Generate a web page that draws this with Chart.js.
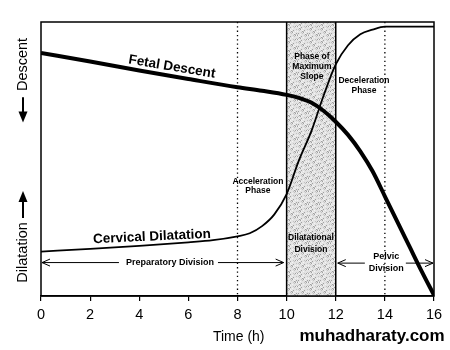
<!DOCTYPE html>
<html>
<head>
<meta charset="utf-8">
<title>Labour curve</title>
<script src="https://cdn.jsdelivr.net/npm/chart.js@4.4.1/dist/chart.umd.min.js"></script>
<style>
body { margin: 0; background: #fff; }
canvas { display: block; }
</style>
</head>
<body>
<canvas id="myChart" width="450" height="350"></canvas>
<script>
// values (y is an arbitrary 0-100 scale, 100 = top of the frame)
let descentHours = [0, 2, 4, 6, 8, 9, 10, 10.5, 11, 11.5, 12, 12.5, 13, 13.5, 14, 14.5, 15, 15.5, 16]
let descentLevel = [88.7, 85.6, 82.3, 79.2, 76.2, 74.9, 73.4, 72.3, 70.6, 67.6, 63.6, 58.8, 52.8, 45.5, 36.4, 27.2, 18.1, 9.0, 0.3]
let dilationHours = [0, 2, 4, 6, 7, 8, 8.5, 9, 9.5, 10, 10.5, 11, 11.5, 12, 12.5, 13, 13.5, 14, 15, 16]
let dilationLevel = [16.2, 17.2, 18.3, 19.6, 20.4, 21.8, 22.9, 25.5, 29.8, 37.2, 49.5, 60, 73, 84.5, 91.5, 95.5, 97.2, 98.3, 98.3, 98.3]
let hourTicks = [0, 2, 4, 6, 8, 10, 12, 14, 16]
let dottedHours = [8, 14]
let bandHours = [10, 12]

const FONT = '"Liberation Sans", Arial, Helvetica, sans-serif'

function pts(xs, ys) {
    return xs.map((h, i) => ({x: h, y: ys[i]}))
}

// light grey speckle for the dilatational division
let stipple = document.createElement('canvas')
stipple.width = 11
stipple.height = 13
let sg = stipple.getContext('2d')
sg.fillStyle = '#e3e3e3'
sg.fillRect(0, 0, 11, 13)
for (let i = 0; i < 11; i++) {
    for (let j = 0; j < 13; j++) {
        let k = (i * 7 + j * 5 + i * j * 3) % 9
        if (k == 0) { sg.fillStyle = '#a0a0a0'; sg.fillRect(i, j, 1, 1) }
        else if (k == 4) { sg.fillStyle = '#c2c2c2'; sg.fillRect(i, j, 1, 1) }
        else if (k == 7) { sg.fillStyle = '#f4f4f4'; sg.fillRect(i, j, 1, 1) }
    }
}

function text(ctx, str, px, py, size, bold, angle) {
    ctx.save()
    ctx.translate(px, py)
    if (angle) ctx.rotate(angle * Math.PI / 180)
    ctx.font = (bold ? 'bold ' : '') + size + 'px ' + FONT
    ctx.fillStyle = '#000'
    ctx.textAlign = 'center'
    ctx.textBaseline = 'middle'
    ctx.fillText(str, 0, 0)
    ctx.restore()
}

function chevron(ctx, px, py, dir) {
    ctx.beginPath()
    ctx.moveTo(px - dir * 8, py - 3.5)
    ctx.lineTo(px, py)
    ctx.lineTo(px - dir * 8, py + 3.5)
    ctx.stroke()
}

function divisionArrow(ctx, x0, x1, py, gapL, gapR) {
    ctx.save()
    ctx.strokeStyle = '#000'
    ctx.lineWidth = 1
    ctx.beginPath()
    ctx.moveTo(x0, py); ctx.lineTo(gapL, py)
    ctx.moveTo(gapR, py); ctx.lineTo(x1, py)
    ctx.stroke()
    chevron(ctx, x0, py, -1)
    chevron(ctx, x1, py, 1)
    ctx.restore()
}

function bigArrow(ctx, px, yFrom, yTip) {
    let dir = yTip > yFrom ? 1 : -1
    ctx.save()
    ctx.strokeStyle = '#000'
    ctx.fillStyle = '#000'
    ctx.lineWidth = 2
    ctx.beginPath()
    ctx.moveTo(px, yFrom)
    ctx.lineTo(px, yTip - dir * 8)
    ctx.stroke()
    ctx.beginPath()
    ctx.moveTo(px, yTip)
    ctx.lineTo(px - 4.5, yTip - dir * 11)
    ctx.lineTo(px + 4.5, yTip - dir * 11)
    ctx.closePath()
    ctx.fill()
    ctx.restore()
}

const decorations = {
    id: 'decorations',
    beforeDatasetsDraw(chart) {
        let {ctx, chartArea: a, scales: {x}} = chart
        ctx.save()
        let b0 = x.getPixelForValue(bandHours[0])
        let b1 = x.getPixelForValue(bandHours[1])
        ctx.fillStyle = ctx.createPattern(stipple, 'repeat')
        ctx.fillRect(b0, a.top, b1 - b0, a.bottom - a.top)
        ctx.strokeStyle = '#000'
        ctx.lineWidth = 1.5
        ctx.beginPath()
        ctx.moveTo(b0, a.top); ctx.lineTo(b0, a.bottom)
        ctx.moveTo(b1, a.top); ctx.lineTo(b1, a.bottom)
        ctx.stroke()
        ctx.setLineDash([1.3, 3])
        ctx.lineWidth = 1.3
        dottedHours.forEach(h => {
            let px = x.getPixelForValue(h)
            ctx.beginPath()
            ctx.moveTo(px, a.top); ctx.lineTo(px, a.bottom)
            ctx.stroke()
        })
        ctx.restore()
    },
    afterDatasetsDraw(chart) {
        let {ctx, chartArea: a, scales: {x, y}} = chart
        let X = v => x.getPixelForValue(v)
        let Y = v => y.getPixelForValue(v)

        // frame
        ctx.save()
        ctx.strokeStyle = '#000'
        ctx.lineWidth = 1.5
        ctx.strokeRect(a.left, a.top, a.right - a.left, a.bottom - a.top)
        ctx.restore()

        text(ctx, 'Fetal Descent', X(5.33), Y(83.6), 13.5, true, 9.5)
        text(ctx, 'Cervical Dilatation', X(4.52), Y(21.6), 13.5, true, -2.6)

        text(ctx, 'Phase of', X(11.03), Y(87.3), 8.5, true)
        text(ctx, 'Maximum', X(11.03), Y(83.8), 8.5, true)
        text(ctx, 'Slope', X(11.03), Y(80.2), 8.5, true)
        text(ctx, 'Deceleration', X(13.15), Y(78.5), 8.5, true)
        text(ctx, 'Phase', X(13.15), Y(74.8), 8.5, true)
        text(ctx, 'Acceleration', X(8.83), Y(41.7), 8.5, true)
        text(ctx, 'Phase', X(8.83), Y(38.3), 8.5, true)
        text(ctx, 'Dilatational', X(10.99), Y(21.2), 8.5, true)
        text(ctx, 'Division', X(10.99), Y(16.8), 8.5, true)

        // division arrows
        let arrowY = Y(12.2)
        text(ctx, 'Preparatory Division', X(5.25), arrowY, 9, true)
        ctx.font = 'bold 9px ' + FONT
        let pw = ctx.measureText('Preparatory Division').width
        divisionArrow(ctx, X(0) + 1, X(10) - 3, arrowY, X(5.25) - pw / 2 - 7, X(5.25) + pw / 2 + 4)
        text(ctx, 'Pelvic', X(14.06), Y(14.3), 9, true)
        text(ctx, 'Division', X(14.06), Y(10.1), 9, true)
        let dw = ctx.measureText('Division').width
        divisionArrow(ctx, X(12) + 2, X(16) - 1, Y(12), X(14.06) - dw / 2 - 4, X(14.06) + dw / 2 + 2)

        // y axis captions
        text(ctx, 'Descent', 23, Y(84.5), 14.5, false, -90)
        bigArrow(ctx, 23, Y(72.5), Y(63.3))
        text(ctx, 'Dilatation', 23, Y(15.9), 14.5, false, -90)
        bigArrow(ctx, 23, Y(28.5), Y(38.3))

        // x axis caption and watermark
        text(ctx, 'Time (h)', X(8.05), a.bottom + 41, 14, false)
        text(ctx, 'muhadharaty.com', 372, a.bottom + 40, 17, true)
    }
}

const data = {
    datasets: [{
        label: 'Fetal Descent',
        data: pts(descentHours, descentLevel),
        borderColor: '#000',
        borderWidth: 4,
        pointRadius: 0,
        cubicInterpolationMode: 'monotone',
        fill: false
    }, {
        label: 'Cervical Dilatation',
        data: pts(dilationHours, dilationLevel),
        borderColor: '#000',
        borderWidth: 1.8,
        pointRadius: 0,
        cubicInterpolationMode: 'monotone',
        fill: false
    }]
}

const config = {
    type: 'line',
    data: data,
    plugins: [decorations],
    options: {
        responsive: false,
        animation: false,
        layout: { padding: { left: 41, right: 16, top: 22, bottom: 0 } },
        plugins: { legend: { display: false }, tooltip: { enabled: false } },
        scales: {
            x: {
                type: 'linear',
                min: 0,
                max: 16,
                afterFit: s => { s.height = 54 },
                afterBuildTicks: s => { s.ticks = hourTicks.map(v => ({value: v})) },
                grid: { drawOnChartArea: false, drawTicks: true, tickLength: 5, color: '#000', lineWidth: 1.2 },
                border: { color: '#000', width: 1.5 },
                ticks: { color: '#000', padding: 5, maxRotation: 0, font: { family: FONT, size: 14.5 } }
            },
            y: {
                display: false,
                min: 0,
                max: 100
            }
        }
    }
}

var ctx = document.getElementById('myChart')
var newmychart = new Chart(ctx, config)
</script>
</body>
</html>
